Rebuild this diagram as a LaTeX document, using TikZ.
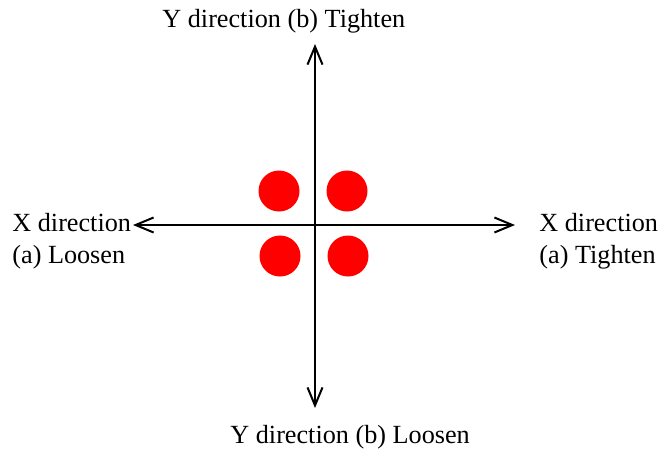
\documentclass[tikz,border=0pt]{standalone}
\usepackage{fontspec}
\setmainfont{Liberation Serif}
\usetikzlibrary{arrows.meta}
\tikzset{
  axis/.style={line width=1pt,{Straight Barb[length=9pt,width=7.5pt]}-{Straight Barb[length=9pt,width=7.5pt]}},
  dot/.style={circle,fill=red,draw=none,minimum size=20.5pt,inner sep=0pt},
  lbl/.style={anchor=base west,inner sep=0pt,font=\fontsize{13.1}{15.5}\selectfont}
}
\begin{document}
\begin{tikzpicture}[x=0.5pt,y=-0.5pt]
\useasboundingbox (0,0) rectangle (662,452);
\coordinate (L) at (133,225);
\coordinate (R) at (515,225);
\coordinate (T) at (315,44);
\coordinate (B) at (315,408);
\draw[axis] (L) -- (R);
\draw[axis] (B) -- (T);
\node[dot] (d1) at (279,191) {};
\node[dot] (d2) at (347,191) {};
\node[dot] (d3) at (280,256) {};
\node[dot] (d4) at (348,256) {};
\node[lbl] (tl) at (162,27) {Y direction (b) Tighten};
\node[lbl] (bl) at (230,443) {Y direction (b) Loosen};
\node[lbl] (l1) at (12,231) {X direction};
\node[lbl] (l2) at (12,263) {(a) Loosen};
\node[lbl] (r1) at (539,231) {X direction};
\node[lbl] (r2) at (539,263) {(a) Tighten};
\end{tikzpicture}
\end{document}
